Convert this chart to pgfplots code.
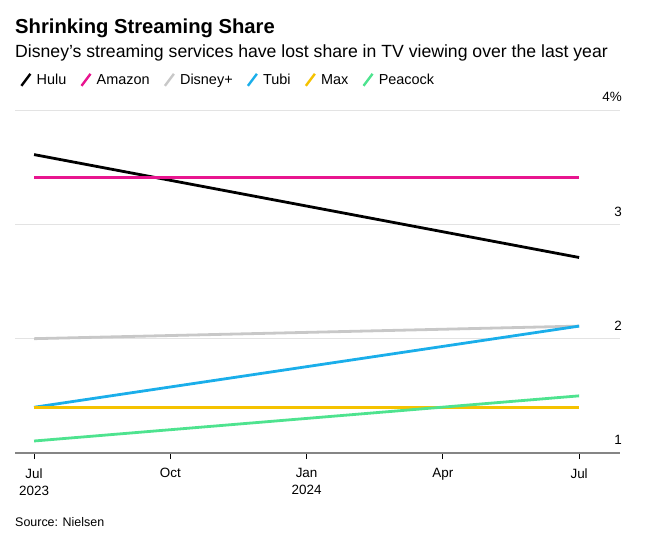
\documentclass[border=0pt]{standalone}
\usepackage{fontspec}
\setmainfont{Liberation Sans}
\usepackage{pgfplots}
\pgfplotsset{compat=1.18}
\definecolor{hulu}{HTML}{000000}
\definecolor{amazon}{HTML}{E8158F}
\definecolor{disney}{HTML}{C8C8C8}
\definecolor{tubi}{HTML}{1AAEEA}
\definecolor{maxc}{HTML}{F5C200}
\definecolor{peacock}{HTML}{4EE38F}
\definecolor{gridc}{HTML}{E3E3E3}
\definecolor{axisc}{HTML}{858585}
\begin{document}
\begin{tikzpicture}[x=1bp,y=1bp]
\path[use as bounding box] (0,0) rectangle (662,-541);
\node[anchor=base west, inner sep=0pt, font=\fontsize{20.3}{22}\selectfont\bfseries] at (15,-34) {Shrinking Streaming Share};
\node[anchor=base west, inner sep=0pt, font=\fontsize{17.7}{20}\selectfont] at (15,-58) {Disney's streaming services have lost share in TV viewing over the last year};
\node[anchor=base west, inner sep=0pt, font=\fontsize{12.5}{14}\selectfont] at (15,-526) {Source: Nielsen};
\begin{axis}[
  /pgf/number format/assume math mode=true,
  scale only axis,
  width=605bp, height=343bp,
  at={(15bp,-453bp)}, anchor=south west,
  xmin=-0.42, xmax=12.9,
  ymin=1, ymax=4,
  axis x line*=bottom,
  axis y line*=right,
  y axis line style={draw=none},
  x axis line style={color=axisc, line width=1.6bp},
  xtick={0,3,6,9,12},
  xticklabels={{Jul\\2023},Oct,{Jan\\2024},Apr,Jul},
  xticklabel style={align=center, font=\fontsize{13.5}{17}\selectfont, yshift=-6bp},
  xtick style={color=black, line width=0.8bp},
  tick align=outside,
  major tick length=6bp,
  ytick={1,2,3,4},
  yticklabels={1,2,3,4\%},
  ytick style={draw=none},
  yticklabel style={anchor=south east, inner sep=0pt, yshift=8bp, xshift=-4bp, font=\fontsize{13.5}{15}\selectfont},
  ymajorgrids,
  grid style={color=gridc, line width=1bp},
  clip=false,
  legend columns=-1,
  legend style={at={(0,1)}, anchor=south west, xshift=5bp, yshift=22bp, draw=none, fill=none,
    font=\fontsize{14.5}{16}\selectfont, inner sep=0pt,
    nodes={inner xsep=5bp},
    /tikz/every even column/.append style={column sep=9bp}},
  legend image code/.code={\draw[#1, line width=2.4bp] (0bp,-6bp) -- (9bp,6bp);},
  every axis plot/.append style={line width=2.8bp},
]
\addplot[hulu] coordinates {(0,3.61) (12,2.71)};
\addlegendentry{Hulu}
\addplot[amazon] coordinates {(0,3.41) (12,3.41)};
\addlegendentry{Amazon}
\addplot[disney] coordinates {(0,2.00) (12,2.11)};
\addlegendentry{Disney+}
\addplot[tubi] coordinates {(0,1.40) (12,2.11)};
\addlegendentry{Tubi}
\addplot[maxc] coordinates {(0,1.40) (12,1.40)};
\addlegendentry{Max}
\addplot[peacock] coordinates {(0,1.105) (12,1.50)};
\addlegendentry{Peacock}
\end{axis}
\end{tikzpicture}
\end{document}
